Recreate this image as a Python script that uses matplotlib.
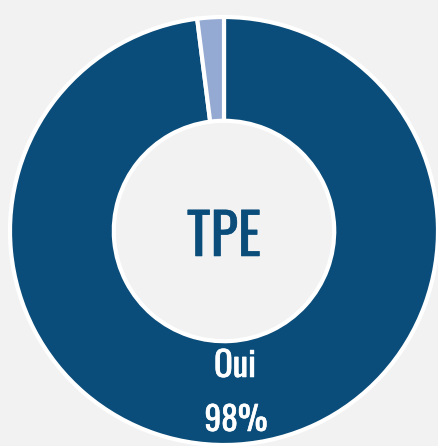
import matplotlib.pyplot as plt
import matplotlib.patheffects as pe
from matplotlib import font_manager

labels = ["Oui", "Non"]
values = [98, 2]
colors = ["#0b4d7a", "#94aad2"]
title = "TPE"


def pick_font(candidates):
    names = {f.name for f in font_manager.fontManager.ttflist}
    for name in candidates:
        if name in names:
            return name
    return "DejaVu Sans"


font = pick_font(["Oswald", "Fjalla One", "Antonio", "Barlow Condensed",
                  "Roboto Condensed"])

fig = plt.figure(figsize=(4.39, 4.46), dpi=100)
fig.patch.set_facecolor("#f2f2f2")
ax = fig.add_axes([0, 0, 1, 1])
ax.set_facecolor("#f2f2f2")

# pixel coordinates of the picture, y upward
cx, cy, r = 224, 215, 214
ax.pie(values, colors=colors, startangle=90, counterclock=False,
       center=(cx, cy), radius=r,
       wedgeprops=dict(width=r * 0.485, edgecolor="white", linewidth=3))
ax.set_xlim(0, 439)
ax.set_ylim(0, 446)
ax.set_aspect("equal")
ax.axis("off")


def heavy(color):
    return [pe.withStroke(linewidth=0.4, foreground=color)]


ax.text(cx, 208, title, ha="center", va="center", fontsize=41,
        fontweight="bold", color=colors[0], family=font,
        path_effects=heavy(colors[0]))
ax.text(cx + 11, 80, labels[0], ha="center", va="center", fontsize=25,
        fontweight="bold", color="white", family=font,
        path_effects=heavy("white"))
ax.text(cx + 12, 26, f"{values[0]}%", ha="center", va="center", fontsize=24,
        fontweight="bold", color="white", family=font,
        path_effects=heavy("white"))

fig.savefig("out.png", dpi=100, facecolor=fig.get_facecolor())
